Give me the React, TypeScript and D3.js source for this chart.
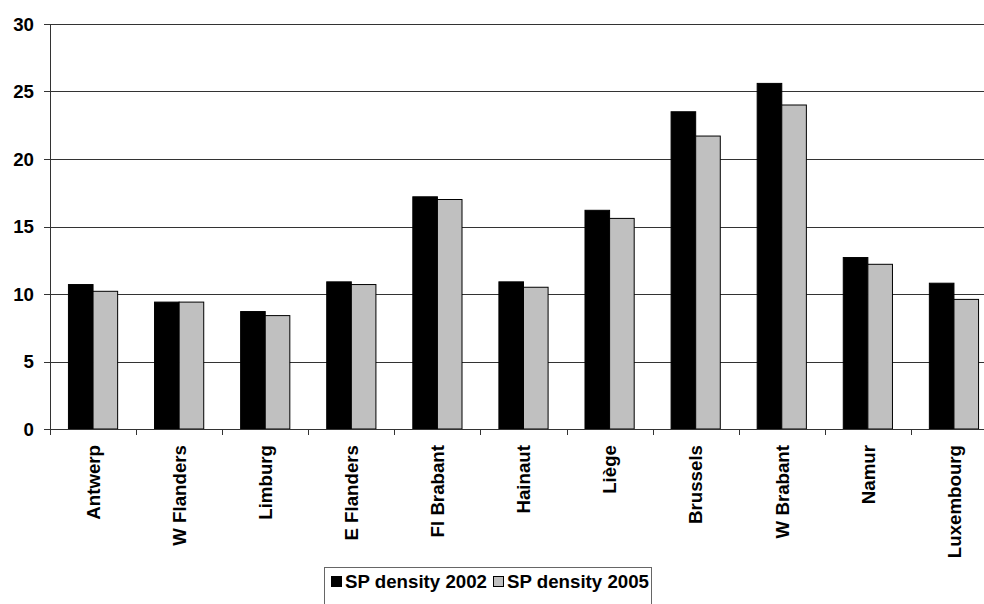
import React from 'react';
import * as d3 from 'd3';

const categories = ['Antwerp', 'W Flanders', 'Limburg', 'E Flanders', 'Fl Brabant', 'Hainaut', 'Liège', 'Brussels', 'W Brabant', 'Namur', 'Luxembourg'];
const density2002 = [10.7, 9.4, 8.7, 10.9, 17.2, 10.9, 16.2, 23.5, 25.6, 12.7, 10.8];
const density2005 = [10.2, 9.4, 8.4, 10.7, 17.0, 10.5, 15.6, 21.7, 24.0, 12.2, 9.6];
const seriesNames = ['SP density 2002', 'SP density 2005'];
const yTicks = [0, 5, 10, 15, 20, 25, 30];

const W = 984;
const H = 604;
const FONT = '"Liberation Sans", Arial, sans-serif';
const COLORS = ['#000000', '#c0c0c0'];

export default function App() {
  const x0 = d3.scaleBand<string>().domain(categories).range([50, 997]).padding(0);
  const x1 = d3.scaleBand<string>().domain(seriesNames).range([0, x0.bandwidth()]).paddingInner(0).paddingOuter(0.75);
  const y = d3.scaleLinear().domain([0, 30]).range([429, 24]);
  const seriesValues = [density2002, density2005];

  const legendX = 324;
  const legendY = 567;
  const fs = 18.7;
  const sq1 = 331;
  const t1 = sq1 + 14;
  const textW = 142;
  const sq2 = t1 + textW + 6;
  const t2 = sq2 + 14;

  return (
    <svg width={W} height={H} style={{ position: 'absolute', left: 0, top: 0, background: '#fff' }} fontFamily={FONT}>
      <rect x={0} y={0} width={W} height={H} fill="#fff" />
      {yTicks.map((t) => (
        <g key={t}>
          {t > 0 && (
            <line x1={50} x2={W} y1={Math.round(y(t)) + 0.5} y2={Math.round(y(t)) + 0.5} stroke="#333" strokeWidth={1} />
          )}
          <line x1={44} x2={50} y1={Math.round(y(t)) + 0.5} y2={Math.round(y(t)) + 0.5} stroke="#333" strokeWidth={1} />
          <text x={34} y={y(t)} dy="0.36em" textAnchor="end" fontSize={fs} fontWeight="bold">{t}</text>
        </g>
      ))}
      {categories.map((c, i) => (
        <g key={c}>
          {seriesNames.map((s, j) => {
            const v = seriesValues[j][i];
            const bx = (x0(c) as number) + (x1(s) as number);
            return (
              <rect key={s} x={bx} y={y(v)} width={x1.bandwidth()} height={y(0) - y(v)} fill={COLORS[j]} stroke="#000" strokeWidth={1} />
            );
          })}
        </g>
      ))}
      {categories.map((c) => (
        <line key={'t' + c} x1={Math.round(x0(c) as number) + 0.5} x2={Math.round(x0(c) as number) + 0.5} y1={429} y2={435} stroke="#333" />
      ))}
      <line x1={50.5} x2={50.5} y1={24} y2={429.5} stroke="#333" strokeWidth={1} />
      <line x1={44} x2={W} y1={429.5} y2={429.5} stroke="#333" strokeWidth={1} />
      {categories.map((c) => {
        const cx = (x0(c) as number) + x0.bandwidth() / 2;
        return (
          <text key={'l' + c} transform={`translate(${cx},445) rotate(-90)`} dy="0.36em" textAnchor="end" fontSize={fs} fontWeight="bold">{c}</text>
        );
      })}
      <rect x={legendX + 0.5} y={legendY + 0.5} width={327} height={60} fill="#fff" stroke="#666" strokeWidth={1} />
      <rect x={sq1 + 0.5} y={576.5} width={10} height={10} fill="#000" stroke="#000" />
      <text x={t1} y={581.5} dy="0.36em" fontSize={fs} fontWeight="bold">{seriesNames[0]}</text>
      <rect x={sq2 + 0.5} y={576.5} width={10} height={10} fill="#c0c0c0" stroke="#000" />
      <text x={t2} y={581.5} dy="0.36em" fontSize={fs} fontWeight="bold">{seriesNames[1]}</text>
    </svg>
  );
}
